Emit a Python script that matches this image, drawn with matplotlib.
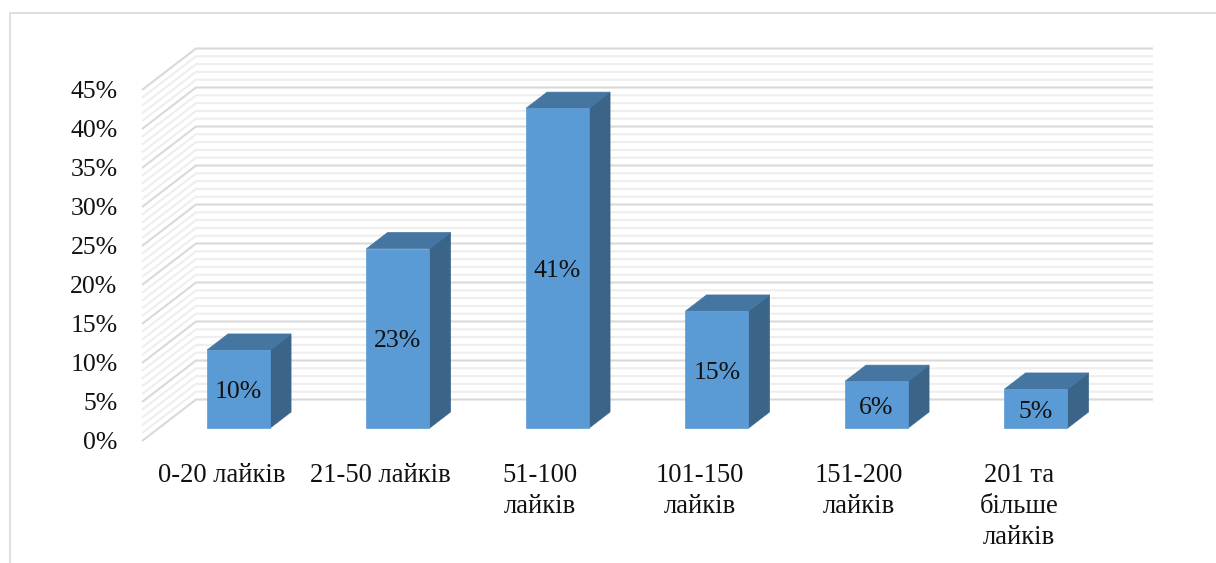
import matplotlib
matplotlib.use('Agg')
import matplotlib.pyplot as plt

plt.rcParams['font.family'] = ['Liberation Serif', 'DejaVu Serif']

labels = ['0-20 лайків', '21-50 лайків', '51-100\nлайків', '101-150\nлайків',
          '151-200\nлайків', '201 та\nбільше\nлайків']
values = [10, 23, 41, 15, 6, 5]
ticks = [0, 5, 10, 15, 20, 25, 30, 35, 40, 45]
minor_ticks = [v for v in range(0, 46) if v % 5 != 0]

W, H = 1216, 563
# pixel layout of the front floor corner and the scale
x0, y0 = 142, 441
cat_w = 159.5
pct_h = 7.8
depth_x = 54 / cat_w
depth_y = 41.5 / pct_h
bar_w = 0.395
d_front, d_back = 0.31, 0.70

front_col = '#5B9BD5'
top_col = '#4575A1'
side_col = '#3B6588'
major_col = '#d9d9d9'
minor_col = '#eeeeee'
text_col = '#111111'


def proj(x, y, d):
    return x + d * depth_x, y + d * depth_y


fig = plt.figure(figsize=(W / 100, H / 100), dpi=100)
ax = fig.add_axes([0, 0, 1, 1])
ax.set_xlim(-x0 / cat_w, (W - x0) / cat_w)
ax.set_ylim((y0 - H) / pct_h, y0 / pct_h)
ax.axis('off')

n = len(values)

# walls
for v, col, lw in [(m, minor_col, 1.5) for m in minor_ticks] + [(t, major_col, 1.5) for t in ticks]:
    xs = [proj(0, v, 0)[0], proj(0, v, 1)[0], proj(n, v, 1)[0]]
    ys = [proj(0, v, 0)[1], proj(0, v, 1)[1], proj(n, v, 1)[1]]
    ax.plot(xs, ys, color=col, lw=lw, solid_capstyle='butt', solid_joinstyle='miter', zorder=1)

# bars
for i, v in enumerate(values):
    left = i + 0.5 - bar_w / 2
    right = i + 0.5 + bar_w / 2
    fl = proj(left, 0, d_front)
    fr = proj(right, 0, d_front)
    tl = proj(left, v, d_front)
    tr = proj(right, v, d_front)
    bl_top = proj(left, v, d_back)
    br_top = proj(right, v, d_back)
    br_bot = proj(right, 0, d_back)
    ax.fill([fr[0], br_bot[0], br_top[0], tr[0]], [fr[1], br_bot[1], br_top[1], tr[1]],
            color=side_col, lw=0.5, zorder=3)
    ax.fill([tl[0], tr[0], br_top[0], bl_top[0]], [tl[1], tr[1], br_top[1], bl_top[1]],
            color=top_col, lw=0.5, zorder=3)
    ax.fill([fl[0], fr[0], tr[0], tl[0]], [fl[1], fr[1], tr[1], tl[1]],
            color=front_col, lw=0.5, zorder=4)
    ax.annotate(f'{v}%', ((fl[0] + fr[0]) / 2, fl[1] + v / 2), xytext=(0, -3),
                textcoords='offset pixels', fontsize=18.5, color=text_col,
                ha='center', va='center', zorder=5)

# tick labels
for t in ticks:
    ax.annotate(f'{t}%', (0, t), xytext=(-24.5, -2), textcoords='offset pixels',
                fontsize=18.5, color=text_col, ha='right', va='center')

for i, lab in enumerate(labels):
    ax.annotate(lab, (i + 0.5, 0), xytext=(-0.5, -22), textcoords='offset pixels',
                fontsize=19.2, color=text_col, ha='center', va='top', linespacing=1.31)

# chart frame, cut off by the crop of the page
fig.add_artist(plt.Line2D([10 / W, 10 / W, 1], [0, 1 - 13 / H, 1 - 13 / H],
                          color='#d9d9d9', lw=1.2))

fig.savefig('out.png', dpi=100)
